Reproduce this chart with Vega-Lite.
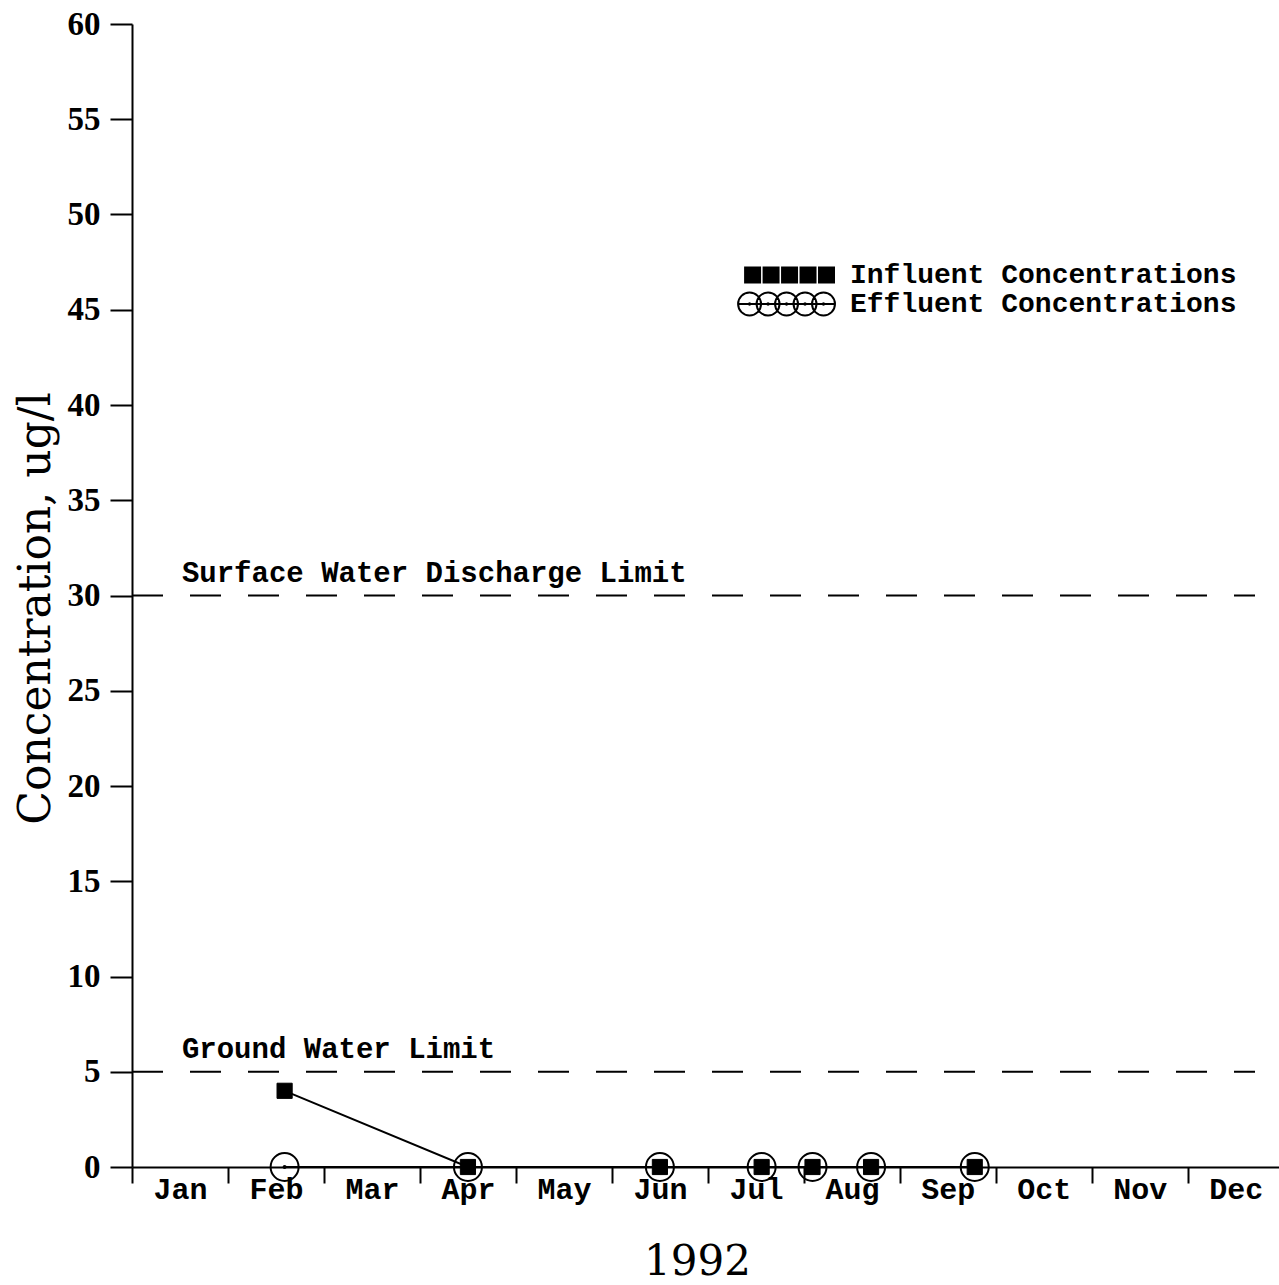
{
  "$schema": "https://vega.github.io/schema/vega-lite/v6.json",
  "width": 1147,
  "height": 1143,
  "autosize": {"type": "none"},
  "padding": {"left": 132, "top": 24, "right": 0, "bottom": 118},
  "background": "white",
  "config": {
    "view": {"stroke": null},
    "axis": {
      "grid": false,
      "domainColor": "black",
      "domainWidth": 2,
      "tickColor": "black",
      "tickWidth": 2,
      "labelColor": "black",
      "titleColor": "black"
    },
    "legend": {
      "labelFont": "Liberation Mono",
      "labelFontSize": 28,
      "labelFontWeight": "bold",
      "labelColor": "black",
      "labelLimit": 600,
      "labelOffset": 8,
      "rowPadding": -2,
      "padding": 0,
      "symbolOpacity": 1,
      "symbolSize": 784,
      "symbolStrokeColor": "black",
      "symbolStrokeWidth": 2
    }
  },
  "datasets": {
    "samples": [
      {"series": "Influent Concentrations", "month": 1.59, "value": 4},
      {"series": "Influent Concentrations", "month": 3.5, "value": 0},
      {"series": "Influent Concentrations", "month": 5.5, "value": 0},
      {"series": "Influent Concentrations", "month": 6.56, "value": 0},
      {"series": "Influent Concentrations", "month": 7.09, "value": 0},
      {"series": "Influent Concentrations", "month": 7.7, "value": 0},
      {"series": "Influent Concentrations", "month": 8.78, "value": 0},
      {"series": "Effluent Concentrations", "month": 1.59, "value": 0},
      {"series": "Effluent Concentrations", "month": 3.5, "value": 0},
      {"series": "Effluent Concentrations", "month": 5.5, "value": 0},
      {"series": "Effluent Concentrations", "month": 6.56, "value": 0},
      {"series": "Effluent Concentrations", "month": 7.09, "value": 0},
      {"series": "Effluent Concentrations", "month": 7.7, "value": 0},
      {"series": "Effluent Concentrations", "month": 8.78, "value": 0}
    ],
    "limits": [
      {"limit": "Surface Water Discharge Limit", "value": 30},
      {"limit": "Ground Water Limit", "value": 5}
    ]
  },
  "layer": [
    {
      "data": {"name": "samples"},
      "mark": {"type": "line", "color": "black", "strokeWidth": 2},
      "encoding": {
        "x": {
          "field": "month",
          "type": "quantitative",
          "scale": {"domain": [0, 11.95], "nice": false, "zero": false},
          "axis": {
            "values": [0, 1, 2, 3, 4, 5, 6, 7, 8, 9, 10, 11],
            "labelExpr": "['Jan','Feb','Mar','Apr','May','Jun','Jul','Aug','Sep','Oct','Nov','Dec'][datum.value]",
            "labelOffset": 48,
            "labelFont": "Liberation Mono",
            "labelFontSize": 30,
            "labelFontWeight": "bold",
            "labelPadding": -9,
            "labelOverlap": false,
            "labelFlush": false,
            "labelBound": false,
            "tickSize": 16,
            "title": "1992",
            "titleFont": "DejaVu Serif",
            "titleFontSize": 42,
            "titleFontWeight": "normal",
            "titleX": 565,
            "titleY": 94,
            "titleBaseline": "middle",
            "titleAlign": "center"
          }
        },
        "y": {
          "field": "value",
          "type": "quantitative",
          "scale": {"domain": [0, 60], "nice": false},
          "axis": {
            "values": [0, 5, 10, 15, 20, 25, 30, 35, 40, 45, 50, 55, 60],
            "labelFont": "Liberation Serif",
            "labelFontSize": 33,
            "labelFontWeight": "bold",
            "labelPadding": 10,
            "tickSize": 22,
            "title": "Concentration, ug/l",
            "titleFont": "DejaVu Serif",
            "titleFontSize": 44,
            "titleFontWeight": "normal",
            "titleX": -96,
            "titleY": 584,
            "titleAngle": -90,
            "titleAlign": "center",
            "titleBaseline": "middle"
          }
        },
        "detail": {"field": "series", "type": "nominal"},
        "order": {"field": "month", "type": "quantitative"}
      }
    },
    {
      "data": {"name": "limits"},
      "mark": {"type": "rule", "strokeDash": [31, 27], "strokeWidth": 2, "color": "black"},
      "encoding": {
        "y": {"field": "value", "type": "quantitative"},
        "x": {"datum": 0},
        "x2": {"datum": 11.7}
      }
    },
    {
      "data": {"name": "limits"},
      "mark": {
        "type": "text",
        "align": "left",
        "baseline": "alphabetic",
        "dy": -14,
        "font": "Liberation Mono",
        "fontSize": 29,
        "fontWeight": "bold",
        "color": "black"
      },
      "encoding": {
        "y": {"field": "value", "type": "quantitative"},
        "x": {"datum": 0.52},
        "text": {"field": "limit", "type": "nominal"}
      }
    },
    {
      "data": {"name": "samples"},
      "transform": [{"filter": "datum.series === 'Effluent Concentrations'"}],
      "mark": {"type": "point", "shape": "circle", "filled": false, "opacity": 1, "stroke": "black", "strokeWidth": 2, "size": 784},
      "encoding": {
        "x": {"field": "month", "type": "quantitative"},
        "y": {"field": "value", "type": "quantitative"}
      }
    },
    {
      "data": {"name": "samples"},
      "transform": [{"filter": "datum.series === 'Effluent Concentrations'"}],
      "mark": {"type": "point", "shape": "circle", "filled": true, "opacity": 1, "color": "black", "size": 16},
      "encoding": {
        "x": {"field": "month", "type": "quantitative"},
        "y": {"field": "value", "type": "quantitative"}
      }
    },
    {
      "data": {"name": "samples"},
      "transform": [{"filter": "datum.series === 'Influent Concentrations'"}],
      "mark": {"type": "point", "shape": "square", "filled": true, "opacity": 1, "color": "black", "stroke": "black", "strokeWidth": 1, "size": 230},
      "encoding": {
        "x": {"field": "month", "type": "quantitative"},
        "y": {"field": "value", "type": "quantitative"}
      }
    },
    {
      "data": {"name": "samples"},
      "mark": {"type": "point", "filled": true, "opacity": 0, "strokeWidth": 2, "size": 784},
      "encoding": {
        "x": {"field": "month", "type": "quantitative"},
        "y": {"field": "value", "type": "quantitative"},
        "shape": {
          "field": "series",
          "type": "nominal",
          "scale": {
            "domain": ["Influent Concentrations", "Effluent Concentrations"],
            "range": [
              "M-0.57,-0.54H0.5V0.54H-0.57Z M-1.89,-0.54H-0.82V0.54H-1.89Z M-3.21,-0.54H-2.14V0.54H-3.21Z M-4.53,-0.54H-3.46V0.54H-4.53Z M-5.85,-0.54H-4.78V0.54H-5.85Z",
              "M-1.07,0A0.82,0.82 0 1,0 0.57,0A0.82,0.82 0 1,0 -1.07,0Z M-2.39,0A0.82,0.82 0 1,0 -0.75,0A0.82,0.82 0 1,0 -2.39,0Z M-3.71,0A0.82,0.82 0 1,0 -2.07,0A0.82,0.82 0 1,0 -3.71,0Z M-5.03,0A0.82,0.82 0 1,0 -3.39,0A0.82,0.82 0 1,0 -5.03,0Z M-6.35,0A0.82,0.82 0 1,0 -4.71,0A0.82,0.82 0 1,0 -6.35,0Z M-6.35,0H0.57 M-0.3,0A0.05,0.05 0 1,0 -0.2,0A0.05,0.05 0 1,0 -0.3,0Z M-1.62,0A0.05,0.05 0 1,0 -1.52,0A0.05,0.05 0 1,0 -1.62,0Z M-2.94,0A0.05,0.05 0 1,0 -2.84,0A0.05,0.05 0 1,0 -2.94,0Z M-4.26,0A0.05,0.05 0 1,0 -4.16,0A0.05,0.05 0 1,0 -4.26,0Z M-5.58,0A0.05,0.05 0 1,0 -5.48,0A0.05,0.05 0 1,0 -5.58,0Z"
            ]
          },
          "legend": {"title": null, "orient": "none", "legendX": 680, "legendY": 236, "symbolOpacity": 1}
        },
        "fill": {
          "field": "series",
          "type": "nominal",
          "scale": {"domain": ["Influent Concentrations", "Effluent Concentrations"], "range": ["black", "transparent"]},
          "legend": {"title": null, "orient": "none", "legendX": 680, "legendY": 236, "symbolOpacity": 1}
        },
        "stroke": {
          "field": "series",
          "type": "nominal",
          "scale": {"domain": ["Influent Concentrations", "Effluent Concentrations"], "range": ["black", "black"]},
          "legend": {"title": null, "orient": "none", "legendX": 680, "legendY": 236, "symbolOpacity": 1}
        }
      }
    }
  ]
}
